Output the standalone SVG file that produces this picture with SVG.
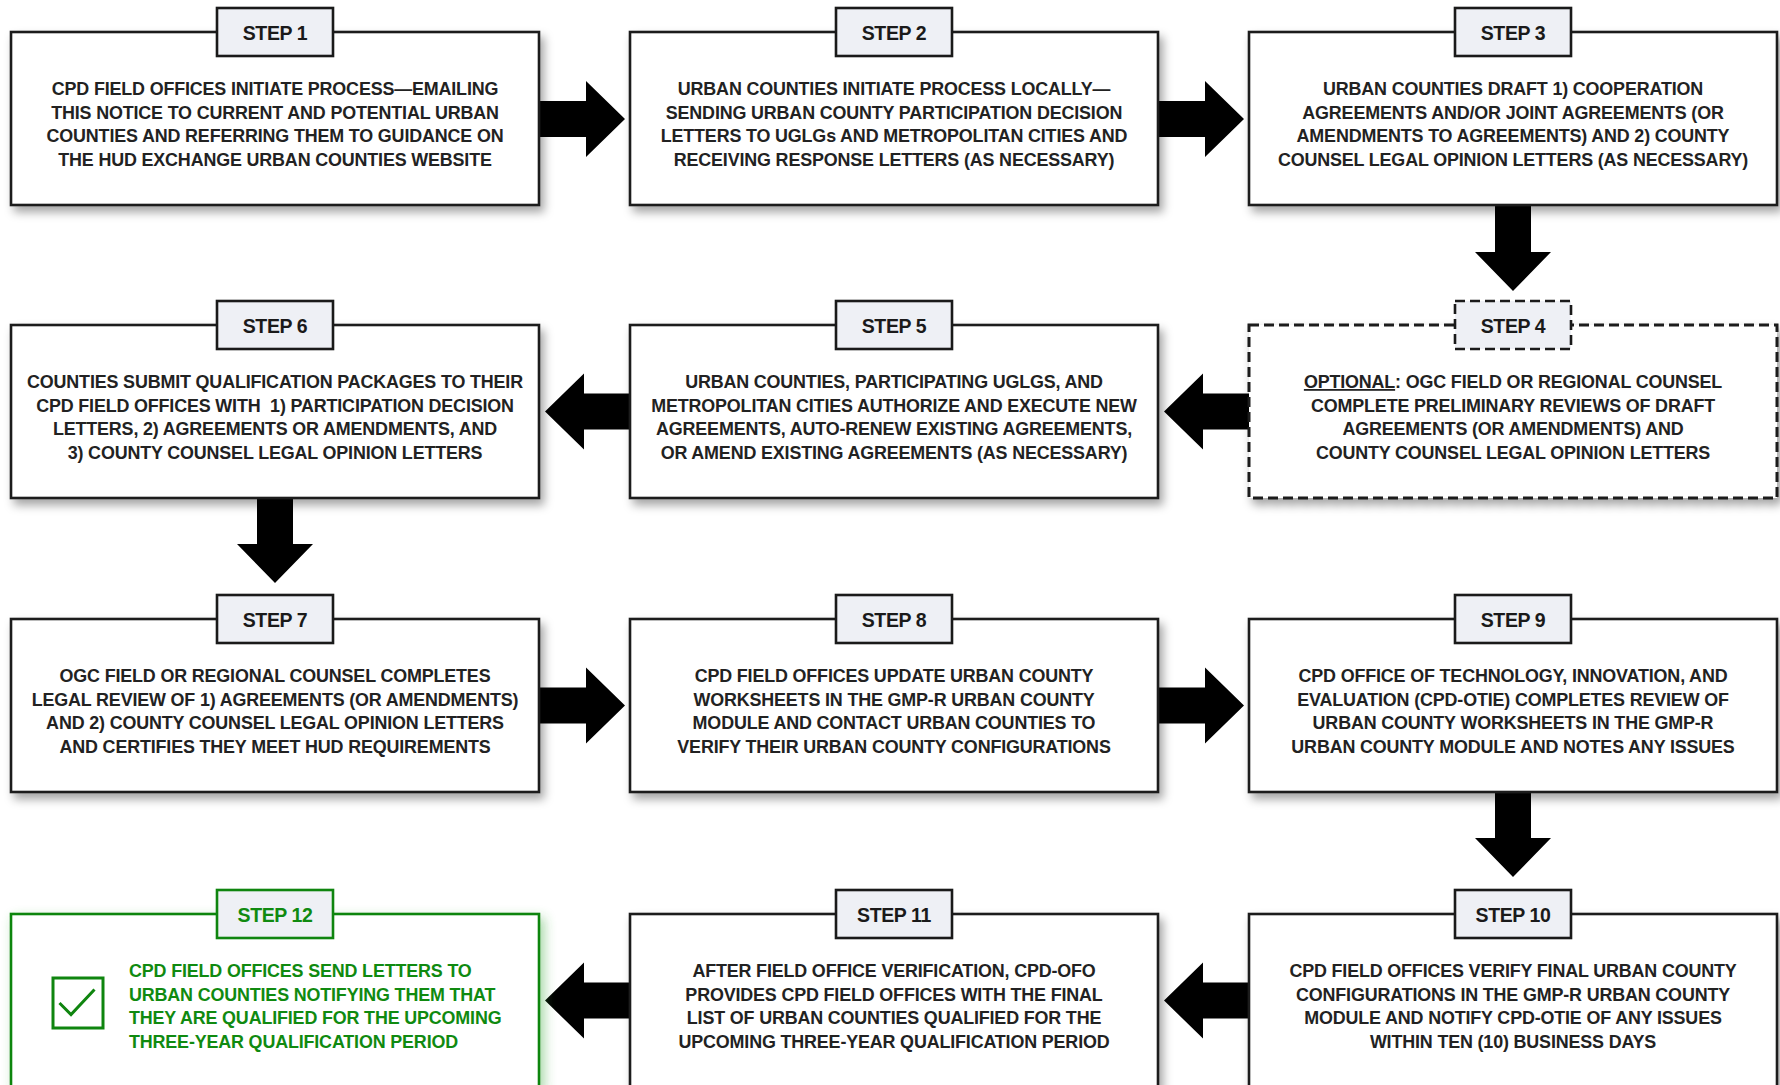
<svg xmlns="http://www.w3.org/2000/svg" width="1780" height="1085" viewBox="0 0 1780 1085">
<defs>
<filter id="sh" x="-5%" y="-10%" width="115%" height="130%">
<feDropShadow dx="4" dy="6" stdDeviation="5" flood-color="#000" flood-opacity="0.35"/>
</filter>
<filter id="shg" x="-5%" y="-10%" width="115%" height="130%">
<feDropShadow dx="4" dy="5" stdDeviation="6" flood-color="#3aa83a" flood-opacity="0.45"/>
</filter>
<style>
.box{fill:#fff;stroke:#1a1a1a;stroke-width:2.6}
.dash{stroke-dasharray:10 5;stroke-width:3}
.lab{fill:#eef0f5;stroke:#1a1a1a;stroke-width:2.6}
.lt{font-family:"Liberation Sans",Arial,sans-serif;font-weight:bold;font-size:19.5px;fill:#1a1a1a;text-anchor:middle;letter-spacing:-0.4px}
.bt{font-family:"Liberation Sans",Arial,sans-serif;font-weight:bold;font-size:17.9px;fill:#222;text-anchor:middle;letter-spacing:-0.15px}
.g .box,.g .lab{stroke:#0f850f}
.g .lt,.g .bt{fill:#108a10}
.arr{fill:#000}
</style>
</defs>
<rect width="1780" height="1085" fill="#fff"/>

<g id="connectors" class="arr">
<polygon points="539,101 586,101 586,81 625,119 586,157 586,137 539,137"/>
<polygon points="1158,101 1205,101 1205,81 1244,119 1205,157 1205,137 1158,137"/>
<polygon points="1495,205 1531,205 1531,252 1551,252 1513,291 1475,252 1495,252"/>
<polygon points="1249,393.5 1203,393.5 1203,373.5 1164,411.5 1203,449.5 1203,429.5 1249,429.5"/>
<polygon points="630,393.5 584,393.5 584,373.5 545,411.5 584,449.5 584,429.5 630,429.5"/>
<polygon points="257,497 293,497 293,544 313,544 275,583 237,544 257,544"/>
<polygon points="539,687.5 586,687.5 586,667.5 625,705.5 586,743.5 586,723.5 539,723.5"/>
<polygon points="1158,687.5 1205,687.5 1205,667.5 1244,705.5 1205,743.5 1205,723.5 1158,723.5"/>
<polygon points="1495,791 1531,791 1531,838 1551,838 1513,877 1475,838 1495,838"/>
<polygon points="1249,982.5 1203,982.5 1203,962.5 1164,1000.5 1203,1038.5 1203,1018.5 1249,1018.5"/>
<polygon points="630,982.5 584,982.5 584,962.5 545,1000.5 584,1038.5 584,1018.5 630,1018.5"/>
</g>

<g id="step1">
<rect class="box" x="11" y="32" width="528" height="173" filter="url(#sh)"/>
<rect class="lab" x="217" y="8" width="116" height="48"/>
<text class="lt" x="275" y="39.5">STEP 1</text>
<text class="bt"><tspan x="275" y="95">CPD FIELD OFFICES INITIATE PROCESS—EMAILING</tspan><tspan x="275" y="118.5">THIS NOTICE TO CURRENT AND POTENTIAL URBAN</tspan><tspan x="275" y="142">COUNTIES AND REFERRING THEM TO GUIDANCE ON</tspan><tspan x="275" y="165.5">THE HUD EXCHANGE URBAN COUNTIES WEBSITE</tspan></text>
</g>

<g id="step2">
<rect class="box" x="630" y="32" width="528" height="173" filter="url(#sh)"/>
<rect class="lab" x="836" y="8" width="116" height="48"/>
<text class="lt" x="894" y="39.5">STEP 2</text>
<text class="bt"><tspan x="894" y="95">URBAN COUNTIES INITIATE PROCESS LOCALLY—</tspan><tspan x="894" y="118.5">SENDING URBAN COUNTY PARTICIPATION DECISION</tspan><tspan x="894" y="142">LETTERS TO UGLGs AND METROPOLITAN CITIES AND</tspan><tspan x="894" y="165.5">RECEIVING RESPONSE LETTERS (AS NECESSARY)</tspan></text>
</g>

<g id="step3">
<rect class="box" x="1249" y="32" width="528" height="173" filter="url(#sh)"/>
<rect class="lab" x="1455" y="8" width="116" height="48"/>
<text class="lt" x="1513" y="39.5">STEP 3</text>
<text class="bt"><tspan x="1513" y="95">URBAN COUNTIES DRAFT 1) COOPERATION</tspan><tspan x="1513" y="118.5">AGREEMENTS AND/OR JOINT AGREEMENTS (OR</tspan><tspan x="1513" y="142">AMENDMENTS TO AGREEMENTS) AND 2) COUNTY</tspan><tspan x="1513" y="165.5">COUNSEL LEGAL OPINION LETTERS (AS NECESSARY)</tspan></text>
</g>

<g id="step4">
<rect class="box dash" x="1249" y="325" width="528" height="173" filter="url(#sh)"/>
<rect class="lab dash" x="1455" y="301" width="116" height="48"/>
<text class="lt" x="1513" y="332.5">STEP 4</text>
<text class="bt"><tspan x="1513" y="388"><tspan text-decoration="underline">OPTIONAL</tspan>: OGC FIELD OR REGIONAL COUNSEL</tspan><tspan x="1513" y="411.5">COMPLETE PRELIMINARY REVIEWS OF DRAFT</tspan><tspan x="1513" y="435">AGREEMENTS (OR AMENDMENTS) AND</tspan><tspan x="1513" y="458.5">COUNTY COUNSEL LEGAL OPINION LETTERS</tspan></text>
</g>

<g id="step5">
<rect class="box" x="630" y="325" width="528" height="173" filter="url(#sh)"/>
<rect class="lab" x="836" y="301" width="116" height="48"/>
<text class="lt" x="894" y="332.5">STEP 5</text>
<text class="bt"><tspan x="894" y="388">URBAN COUNTIES, PARTICIPATING UGLGS, AND</tspan><tspan x="894" y="411.5">METROPOLITAN CITIES AUTHORIZE AND EXECUTE NEW</tspan><tspan x="894" y="435">AGREEMENTS, AUTO-RENEW EXISTING AGREEMENTS,</tspan><tspan x="894" y="458.5">OR AMEND EXISTING AGREEMENTS (AS NECESSARY)</tspan></text>
</g>

<g id="step6">
<rect class="box" x="11" y="325" width="528" height="173" filter="url(#sh)"/>
<rect class="lab" x="217" y="301" width="116" height="48"/>
<text class="lt" x="275" y="332.5">STEP 6</text>
<text class="bt"><tspan x="275" y="388">COUNTIES SUBMIT QUALIFICATION PACKAGES TO THEIR</tspan><tspan x="275" y="411.5" xml:space="preserve">CPD FIELD OFFICES WITH  1) PARTICIPATION DECISION</tspan><tspan x="275" y="435">LETTERS, 2) AGREEMENTS OR AMENDMENTS, AND</tspan><tspan x="275" y="458.5">3) COUNTY COUNSEL LEGAL OPINION LETTERS</tspan></text>
</g>

<g id="step7">
<rect class="box" x="11" y="619" width="528" height="173" filter="url(#sh)"/>
<rect class="lab" x="217" y="595" width="116" height="48"/>
<text class="lt" x="275" y="626.5">STEP 7</text>
<text class="bt"><tspan x="275" y="682">OGC FIELD OR REGIONAL COUNSEL COMPLETES</tspan><tspan x="275" y="705.5">LEGAL REVIEW OF 1) AGREEMENTS (OR AMENDMENTS)</tspan><tspan x="275" y="729">AND 2) COUNTY COUNSEL LEGAL OPINION LETTERS</tspan><tspan x="275" y="752.5">AND CERTIFIES THEY MEET HUD REQUIREMENTS</tspan></text>
</g>

<g id="step8">
<rect class="box" x="630" y="619" width="528" height="173" filter="url(#sh)"/>
<rect class="lab" x="836" y="595" width="116" height="48"/>
<text class="lt" x="894" y="626.5">STEP 8</text>
<text class="bt"><tspan x="894" y="682">CPD FIELD OFFICES UPDATE URBAN COUNTY</tspan><tspan x="894" y="705.5">WORKSHEETS IN THE GMP-R URBAN COUNTY</tspan><tspan x="894" y="729">MODULE AND CONTACT URBAN COUNTIES TO</tspan><tspan x="894" y="752.5">VERIFY THEIR URBAN COUNTY CONFIGURATIONS</tspan></text>
</g>

<g id="step9">
<rect class="box" x="1249" y="619" width="528" height="173" filter="url(#sh)"/>
<rect class="lab" x="1455" y="595" width="116" height="48"/>
<text class="lt" x="1513" y="626.5">STEP 9</text>
<text class="bt"><tspan x="1513" y="682">CPD OFFICE OF TECHNOLOGY, INNOVATION, AND</tspan><tspan x="1513" y="705.5">EVALUATION (CPD-OTIE) COMPLETES REVIEW OF</tspan><tspan x="1513" y="729">URBAN COUNTY WORKSHEETS IN THE GMP-R</tspan><tspan x="1513" y="752.5">URBAN COUNTY MODULE AND NOTES ANY ISSUES</tspan></text>
</g>

<g id="step10">
<rect class="box" x="1249" y="914" width="528" height="173" filter="url(#sh)"/>
<rect class="lab" x="1455" y="890" width="116" height="48"/>
<text class="lt" x="1513" y="921.5">STEP 10</text>
<text class="bt"><tspan x="1513" y="977">CPD FIELD OFFICES VERIFY FINAL URBAN COUNTY</tspan><tspan x="1513" y="1000.5">CONFIGURATIONS IN THE GMP-R URBAN COUNTY</tspan><tspan x="1513" y="1024">MODULE AND NOTIFY CPD-OTIE OF ANY ISSUES</tspan><tspan x="1513" y="1047.5">WITHIN TEN (10) BUSINESS DAYS</tspan></text>
</g>

<g id="step11">
<rect class="box" x="630" y="914" width="528" height="173" filter="url(#sh)"/>
<rect class="lab" x="836" y="890" width="116" height="48"/>
<text class="lt" x="894" y="921.5">STEP 11</text>
<text class="bt"><tspan x="894" y="977">AFTER FIELD OFFICE VERIFICATION, CPD-OFO</tspan><tspan x="894" y="1000.5">PROVIDES CPD FIELD OFFICES WITH THE FINAL</tspan><tspan x="894" y="1024">LIST OF URBAN COUNTIES QUALIFIED FOR THE</tspan><tspan x="894" y="1047.5">UPCOMING THREE-YEAR QUALIFICATION PERIOD</tspan></text>
</g>

<g id="step12" class="g">
<rect class="box" x="11" y="914" width="528" height="173" filter="url(#shg)"/>
<rect class="lab" x="217" y="890" width="116" height="48"/>
<text class="lt" x="275" y="921.5">STEP 12</text>
<rect x="53" y="978" width="50" height="50" fill="none" stroke="#0f850f" stroke-width="3"/>
<polyline points="59.5,1003 71,1014.5 94.5,989.5" fill="none" stroke="#0f850f" stroke-width="3"/>
<text class="bt" style="text-anchor:start"><tspan x="129" y="977">CPD FIELD OFFICES SEND LETTERS TO</tspan><tspan x="129" y="1000.5">URBAN COUNTIES NOTIFYING THEM THAT</tspan><tspan x="129" y="1024">THEY ARE QUALIFIED FOR THE UPCOMING</tspan><tspan x="129" y="1047.5">THREE-YEAR QUALIFICATION PERIOD</tspan></text>
</g>
</svg>
